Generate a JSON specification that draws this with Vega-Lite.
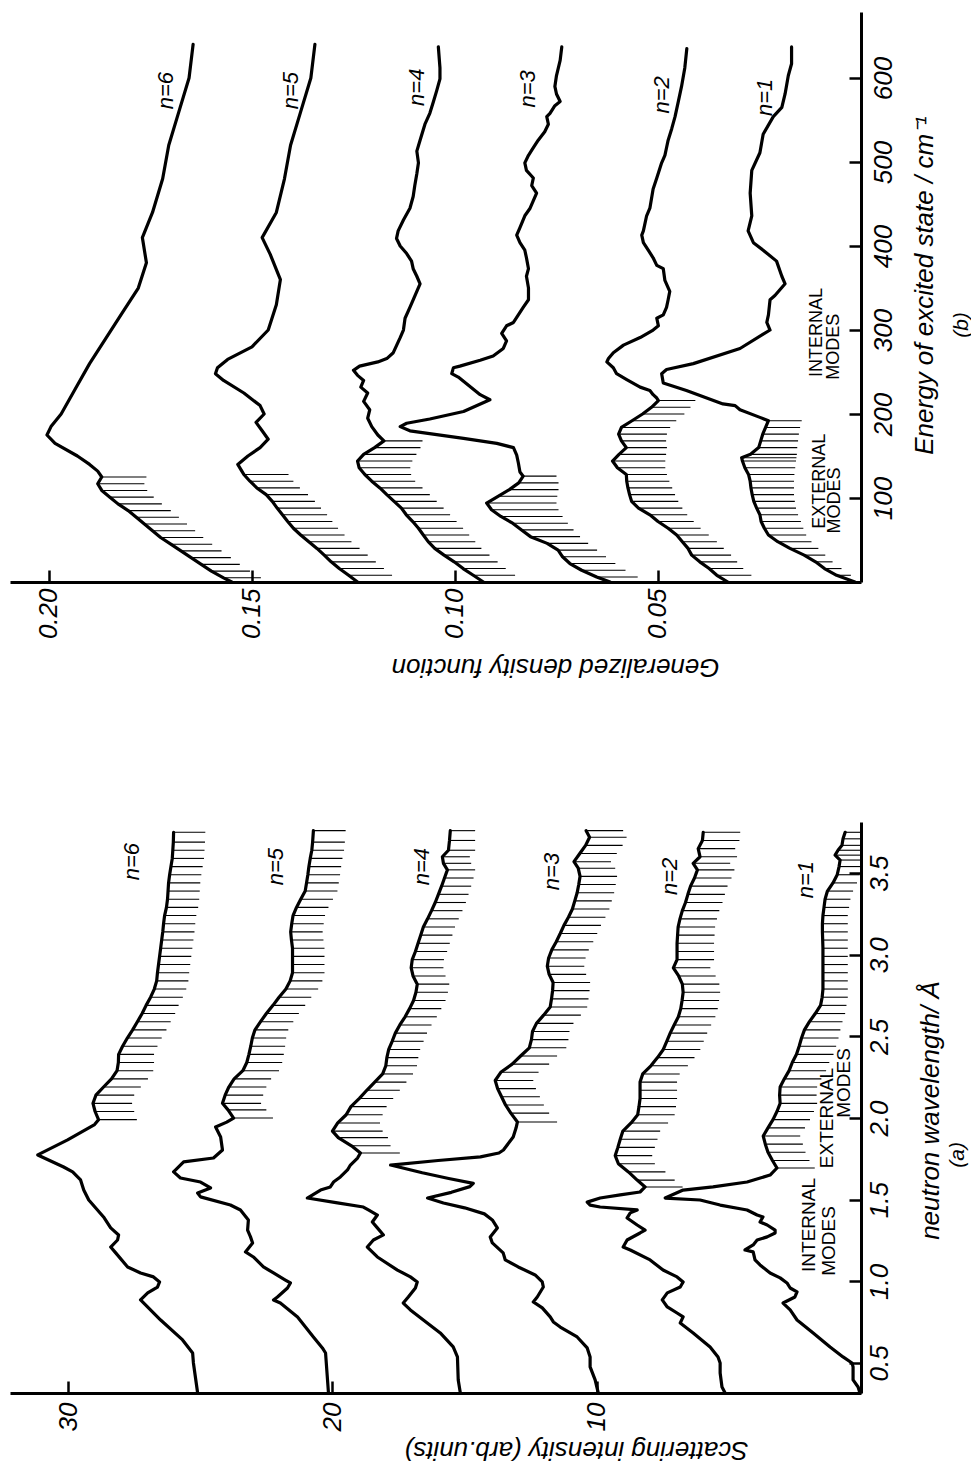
{
"$schema": "https://vega.github.io/schema/vega-lite/v6.json",
"padding": {"left": 10, "top": 12, "right": 0, "bottom": 30},
"autosize": {"type": "pad"},
"background": "white",
"bounds": "flush",
"spacing": 240,
"config": {
  "view": {"stroke": null},
  "font": "Liberation Sans",
  "axis": {"domainColor": "black", "domainWidth": 3, "tickColor": "black", "tickWidth": 2.5, "tickSize": -12, "labelColor": "black", "labelFont": "Liberation Sans", "labelFontStyle": "italic", "labelFontSize": 26, "titleFont": "Liberation Sans", "titleFontStyle": "italic", "titleFontWeight": "normal", "titleFontSize": 26, "titleColor": "black", "grid": false, "labelFlush": false, "labelOverlap": false}
},
"datasets": {
"b": [
{"n":1,"e":637,"d":0.0171},{"n":1,"e":617,"d":0.0171},{"n":1,"e":603,"d":0.0179},{"n":1,"e":581,"d":0.0187},{"n":1,"e":565,"d":0.0195},{"n":1,"e":554,"d":0.0216},{"n":1,"e":533,"d":0.0241},{"n":1,"e":511,"d":0.0249},{"n":1,"e":490,"d":0.0269},{"n":1,"e":463,"d":0.0273},{"n":1,"e":436,"d":0.0269},{"n":1,"e":418,"d":0.0278},{"n":1,"e":404,"d":0.0265},{"n":1,"e":395,"d":0.0241},{"n":1,"e":382,"d":0.0208},{"n":1,"e":364,"d":0.0195},{"n":1,"e":355,"d":0.0187},{"n":1,"e":341,"d":0.0212},{"n":1,"e":336,"d":0.0224},{"n":1,"e":318,"d":0.0228},{"n":1,"e":309,"d":0.0232},{"n":1,"e":300,"d":0.0224},{"n":1,"e":278,"d":0.0298},{"n":1,"e":260,"d":0.0413},{"n":1,"e":253,"d":0.0479},{"n":1,"e":248,"d":0.0491},{"n":1,"e":237,"d":0.0487},{"n":1,"e":228,"d":0.0430},{"n":1,"e":212,"d":0.0340},{"n":1,"e":210,"d":0.0310},{"n":1,"e":205,"d":0.0298},{"n":1,"e":196,"d":0.0249},
{"n":1,"e":192,"d":0.0228,"lo":0.0146},{"n":1,"e":184,"d":0.0235,"lo":0.0150},{"n":1,"e":176,"d":0.0242,"lo":0.0153},{"n":1,"e":168,"d":0.0247,"lo":0.0155},{"n":1,"e":160,"d":0.0252,"lo":0.0157},{"n":1,"e":152,"d":0.0272,"lo":0.0158},{"n":1,"e":148,"d":0.0294,"lo":0.0159},{"n":1,"e":144,"d":0.0292,"lo":0.0160},{"n":1,"e":136,"d":0.0286,"lo":0.0162},{"n":1,"e":128,"d":0.0277,"lo":0.0164},{"n":1,"e":120,"d":0.0273,"lo":0.0165},{"n":1,"e":112,"d":0.0271,"lo":0.0165},{"n":1,"e":104,"d":0.0268,"lo":0.0165},{"n":1,"e":96,"d":0.0264,"lo":0.0163},{"n":1,"e":88,"d":0.0257,"lo":0.0160},{"n":1,"e":80,"d":0.0249,"lo":0.0155},{"n":1,"e":72,"d":0.0246,"lo":0.0148},{"n":1,"e":64,"d":0.0238,"lo":0.0142},{"n":1,"e":56,"d":0.0228,"lo":0.0135},{"n":1,"e":48,"d":0.0205,"lo":0.0122},{"n":1,"e":40,"d":0.0175,"lo":0.0105},{"n":1,"e":32,"d":0.0140,"lo":0.0088},{"n":1,"e":24,"d":0.0112,"lo":0.0070},{"n":1,"e":16,"d":0.0090,"lo":0.0048},{"n":1,"e":8,"d":0.0060,"lo":0.0025},{"n":1,"e":0,"d":0.0015,"lo":0.0},
{"n":2,"e":635,"d":0.0429},{"n":2,"e":612,"d":0.0434},{"n":2,"e":590,"d":0.0442},{"n":2,"e":572,"d":0.0450},{"n":2,"e":554,"d":0.0458},{"n":2,"e":540,"d":0.0466},{"n":2,"e":526,"d":0.0475},{"n":2,"e":517,"d":0.0479},{"n":2,"e":508,"d":0.0483},{"n":2,"e":499,"d":0.0491},{"n":2,"e":481,"d":0.0503},{"n":2,"e":468,"d":0.0512},{"n":2,"e":445,"d":0.0520},{"n":2,"e":436,"d":0.0528},{"n":2,"e":418,"d":0.0536},{"n":2,"e":413,"d":0.0540},{"n":2,"e":404,"d":0.0536},{"n":2,"e":395,"d":0.0524},{"n":2,"e":386,"d":0.0512},{"n":2,"e":377,"d":0.0503},{"n":2,"e":373,"d":0.0487},{"n":2,"e":359,"d":0.0483},{"n":2,"e":346,"d":0.0471},{"n":2,"e":336,"d":0.0475},{"n":2,"e":327,"d":0.0479},{"n":2,"e":318,"d":0.0487},{"n":2,"e":314,"d":0.0503},{"n":2,"e":305,"d":0.0499},{"n":2,"e":300,"d":0.0512},{"n":2,"e":291,"d":0.0544},{"n":2,"e":282,"d":0.0585},{"n":2,"e":273,"d":0.0610},{"n":2,"e":266,"d":0.0622},{"n":2,"e":262,"d":0.0626},{"n":2,"e":255,"d":0.0610},{"n":2,"e":248,"d":0.0602},{"n":2,"e":241,"d":0.0577},{"n":2,"e":232,"d":0.0544},{"n":2,"e":228,"d":0.0520},{"n":2,"e":223,"d":0.0512},{"n":2,"e":219,"d":0.0503},
{"n":2,"e":216,"d":0.0499,"lo":0.0408},{"n":2,"e":208,"d":0.0516,"lo":0.0420},{"n":2,"e":200,"d":0.0538,"lo":0.0435},{"n":2,"e":192,"d":0.0564,"lo":0.0455},{"n":2,"e":184,"d":0.0590,"lo":0.0470},{"n":2,"e":176,"d":0.0597,"lo":0.0478},{"n":2,"e":168,"d":0.0590,"lo":0.0480},{"n":2,"e":160,"d":0.0578,"lo":0.0478},{"n":2,"e":152,"d":0.0596,"lo":0.0480},{"n":2,"e":144,"d":0.0612,"lo":0.0482},{"n":2,"e":136,"d":0.0600,"lo":0.0482},{"n":2,"e":128,"d":0.0578,"lo":0.0478},{"n":2,"e":120,"d":0.0577,"lo":0.0472},{"n":2,"e":112,"d":0.0574,"lo":0.0465},{"n":2,"e":104,"d":0.0570,"lo":0.0458},{"n":2,"e":96,"d":0.0565,"lo":0.0450},{"n":2,"e":88,"d":0.0548,"lo":0.0440},{"n":2,"e":80,"d":0.0520,"lo":0.0428},{"n":2,"e":72,"d":0.0500,"lo":0.0412},{"n":2,"e":64,"d":0.0475,"lo":0.0395},{"n":2,"e":56,"d":0.0454,"lo":0.0375},{"n":2,"e":48,"d":0.0440,"lo":0.0355},{"n":2,"e":40,"d":0.0426,"lo":0.0338},{"n":2,"e":32,"d":0.0417,"lo":0.0320},{"n":2,"e":24,"d":0.0397,"lo":0.0305},{"n":2,"e":16,"d":0.0374,"lo":0.0290},{"n":2,"e":8,"d":0.0355,"lo":0.0270},{"n":2,"e":0,"d":0.0328,"lo":0.0250},
{"n":3,"e":637,"d":0.0737},{"n":3,"e":621,"d":0.0741},{"n":3,"e":603,"d":0.0750},{"n":3,"e":590,"d":0.0754},{"n":3,"e":581,"d":0.0750},{"n":3,"e":572,"d":0.0741},{"n":3,"e":567,"d":0.0754},{"n":3,"e":558,"d":0.0766},{"n":3,"e":554,"d":0.0774},{"n":3,"e":545,"d":0.0770},{"n":3,"e":536,"d":0.0779},{"n":3,"e":526,"d":0.0795},{"n":3,"e":517,"d":0.0807},{"n":3,"e":508,"d":0.0819},{"n":3,"e":499,"d":0.0828},{"n":3,"e":490,"d":0.0824},{"n":3,"e":481,"d":0.0807},{"n":3,"e":472,"d":0.0811},{"n":3,"e":463,"d":0.0799},{"n":3,"e":454,"d":0.0807},{"n":3,"e":445,"d":0.0815},{"n":3,"e":436,"d":0.0828},{"n":3,"e":422,"d":0.0840},{"n":3,"e":413,"d":0.0848},{"n":3,"e":404,"d":0.0840},{"n":3,"e":395,"d":0.0828},{"n":3,"e":386,"d":0.0824},{"n":3,"e":373,"d":0.0819},{"n":3,"e":364,"d":0.0824},{"n":3,"e":350,"d":0.0819},{"n":3,"e":336,"d":0.0819},{"n":3,"e":327,"d":0.0832},{"n":3,"e":318,"d":0.0844},{"n":3,"e":309,"d":0.0856},{"n":3,"e":305,"d":0.0873},{"n":3,"e":296,"d":0.0885},{"n":3,"e":287,"d":0.0873},{"n":3,"e":278,"d":0.0881},{"n":3,"e":269,"d":0.0906},{"n":3,"e":264,"d":0.0938},{"n":3,"e":257,"d":0.0988},{"n":3,"e":255,"d":0.1004},{"n":3,"e":248,"d":0.1008},{"n":3,"e":244,"d":0.0992},{"n":3,"e":223,"d":0.0938},{"n":3,"e":217,"d":0.0914},{"n":3,"e":203,"d":0.0979},{"n":3,"e":194,"d":0.1062},{"n":3,"e":189,"d":0.1119},{"n":3,"e":185,"d":0.1135},{"n":3,"e":180,"d":0.1111},{"n":3,"e":171,"d":0.0979},{"n":3,"e":165,"d":0.0897},{"n":3,"e":160,"d":0.0856},{"n":3,"e":151,"d":0.0848},{"n":3,"e":142,"d":0.0844},{"n":3,"e":131,"d":0.0840},
{"n":3,"e":126,"d":0.0832,"lo":0.0750},{"n":3,"e":118,"d":0.0843,"lo":0.0745},{"n":3,"e":110,"d":0.0866,"lo":0.0745},{"n":3,"e":102,"d":0.0894,"lo":0.0748},{"n":3,"e":94,"d":0.0922,"lo":0.0750},{"n":3,"e":86,"d":0.0910,"lo":0.0745},{"n":3,"e":78,"d":0.0887,"lo":0.0735},{"n":3,"e":70,"d":0.0858,"lo":0.0722},{"n":3,"e":62,"d":0.0836,"lo":0.0708},{"n":3,"e":54,"d":0.0814,"lo":0.0692},{"n":3,"e":46,"d":0.0773,"lo":0.0672},{"n":3,"e":38,"d":0.0746,"lo":0.0650},{"n":3,"e":30,"d":0.0735,"lo":0.0628},{"n":3,"e":22,"d":0.0717,"lo":0.0605},{"n":3,"e":14,"d":0.0688,"lo":0.0580},{"n":3,"e":6,"d":0.0651,"lo":0.0550},{"n":3,"e":0,"d":0.0618,"lo":0.0525},
{"n":4,"e":637,"d":0.1041},{"n":4,"e":612,"d":0.1037},{"n":4,"e":599,"d":0.1037},{"n":4,"e":585,"d":0.1045},{"n":4,"e":572,"d":0.1053},{"n":4,"e":558,"d":0.1062},{"n":4,"e":545,"d":0.1074},{"n":4,"e":526,"d":0.1086},{"n":4,"e":513,"d":0.1094},{"n":4,"e":499,"d":0.1090},{"n":4,"e":486,"d":0.1094},{"n":4,"e":472,"d":0.1099},{"n":4,"e":459,"d":0.1103},{"n":4,"e":445,"d":0.1111},{"n":4,"e":431,"d":0.1127},{"n":4,"e":418,"d":0.1140},{"n":4,"e":409,"d":0.1144},{"n":4,"e":400,"d":0.1135},{"n":4,"e":391,"d":0.1119},{"n":4,"e":382,"d":0.1107},{"n":4,"e":373,"d":0.1103},{"n":4,"e":364,"d":0.1094},{"n":4,"e":355,"d":0.1086},{"n":4,"e":346,"d":0.1094},{"n":4,"e":336,"d":0.1103},{"n":4,"e":327,"d":0.1111},{"n":4,"e":314,"d":0.1123},{"n":4,"e":300,"d":0.1127},{"n":4,"e":291,"d":0.1135},{"n":4,"e":273,"d":0.1152},{"n":4,"e":266,"d":0.1168},{"n":4,"e":262,"d":0.1190},{"n":4,"e":257,"d":0.1235},{"n":4,"e":252,"d":0.1250},{"n":4,"e":246,"d":0.1240},{"n":4,"e":240,"d":0.1225},{"n":4,"e":232,"d":0.1232},{"n":4,"e":225,"d":0.1215},{"n":4,"e":215,"d":0.1225},{"n":4,"e":205,"d":0.1210},{"n":4,"e":195,"d":0.1215},{"n":4,"e":185,"d":0.1205},{"n":4,"e":175,"d":0.1190},
{"n":4,"e":168,"d":0.1175,"lo":0.1080},{"n":4,"e":160,"d":0.1198,"lo":0.1085},{"n":4,"e":152,"d":0.1225,"lo":0.1095},{"n":4,"e":144,"d":0.1240,"lo":0.1105},{"n":4,"e":136,"d":0.1236,"lo":0.1110},{"n":4,"e":128,"d":0.1222,"lo":0.1108},{"n":4,"e":120,"d":0.1205,"lo":0.1098},{"n":4,"e":112,"d":0.1185,"lo":0.1080},{"n":4,"e":104,"d":0.1168,"lo":0.1062},{"n":4,"e":96,"d":0.1150,"lo":0.1045},{"n":4,"e":88,"d":0.1132,"lo":0.1028},{"n":4,"e":80,"d":0.1120,"lo":0.1012},{"n":4,"e":72,"d":0.1104,"lo":0.0996},{"n":4,"e":64,"d":0.1090,"lo":0.0980},{"n":4,"e":56,"d":0.1078,"lo":0.0965},{"n":4,"e":48,"d":0.1066,"lo":0.0950},{"n":4,"e":40,"d":0.1050,"lo":0.0935},{"n":4,"e":32,"d":0.1027,"lo":0.0915},{"n":4,"e":24,"d":0.1002,"lo":0.0895},{"n":4,"e":16,"d":0.0980,"lo":0.0875},{"n":4,"e":8,"d":0.0955,"lo":0.0852},{"n":4,"e":0,"d":0.0930,"lo":0.0830},
{"n":5,"e":640,"d":0.1345},{"n":5,"e":600,"d":0.1355},{"n":5,"e":560,"d":0.1380},{"n":5,"e":520,"d":0.1405},{"n":5,"e":480,"d":0.1420},{"n":5,"e":440,"d":0.1440},{"n":5,"e":410,"d":0.1475},{"n":5,"e":390,"d":0.1455},{"n":5,"e":360,"d":0.1430},{"n":5,"e":330,"d":0.1440},{"n":5,"e":300,"d":0.1460},{"n":5,"e":280,"d":0.1500},{"n":5,"e":265,"d":0.1560},{"n":5,"e":255,"d":0.1585},{"n":5,"e":248,"d":0.1590},{"n":5,"e":240,"d":0.1570},{"n":5,"e":225,"d":0.1520},{"n":5,"e":210,"d":0.1480},{"n":5,"e":200,"d":0.1470},{"n":5,"e":190,"d":0.1490},{"n":5,"e":180,"d":0.1475},{"n":5,"e":170,"d":0.1460},{"n":5,"e":160,"d":0.1480},{"n":5,"e":150,"d":0.1510},{"n":5,"e":140,"d":0.1535},{"n":5,"e":132,"d":0.1525},
{"n":5,"e":128,"d":0.1520,"lo":0.1410},{"n":5,"e":120,"d":0.1505,"lo":0.1398},{"n":5,"e":112,"d":0.1488,"lo":0.1382},{"n":5,"e":104,"d":0.1465,"lo":0.1362},{"n":5,"e":96,"d":0.1450,"lo":0.1345},{"n":5,"e":88,"d":0.1438,"lo":0.1330},{"n":5,"e":80,"d":0.1425,"lo":0.1315},{"n":5,"e":72,"d":0.1412,"lo":0.1302},{"n":5,"e":64,"d":0.1398,"lo":0.1288},{"n":5,"e":56,"d":0.1380,"lo":0.1272},{"n":5,"e":48,"d":0.1360,"lo":0.1255},{"n":5,"e":40,"d":0.1340,"lo":0.1235},{"n":5,"e":32,"d":0.1322,"lo":0.1215},{"n":5,"e":24,"d":0.1305,"lo":0.1195},{"n":5,"e":16,"d":0.1285,"lo":0.1175},{"n":5,"e":8,"d":0.1262,"lo":0.1155},{"n":5,"e":0,"d":0.1240,"lo":0.1135},
{"n":6,"e":640,"d":0.1645},{"n":6,"e":600,"d":0.1655},{"n":6,"e":560,"d":0.1680},{"n":6,"e":520,"d":0.1705},{"n":6,"e":480,"d":0.1720},{"n":6,"e":440,"d":0.1745},{"n":6,"e":410,"d":0.1770},{"n":6,"e":380,"d":0.1760},{"n":6,"e":350,"d":0.1780},{"n":6,"e":320,"d":0.1820},{"n":6,"e":290,"d":0.1860},{"n":6,"e":260,"d":0.1900},{"n":6,"e":230,"d":0.1935},{"n":6,"e":200,"d":0.1970},{"n":6,"e":185,"d":0.1995},{"n":6,"e":175,"d":0.2005},{"n":6,"e":165,"d":0.1985},{"n":6,"e":150,"d":0.1930},{"n":6,"e":140,"d":0.1900},{"n":6,"e":132,"d":0.1880},
{"n":6,"e":125,"d":0.1870,"lo":0.1760},{"n":6,"e":117,"d":0.1880,"lo":0.1765},{"n":6,"e":109,"d":0.1870,"lo":0.1758},{"n":6,"e":101,"d":0.1850,"lo":0.1742},{"n":6,"e":93,"d":0.1830,"lo":0.1722},{"n":6,"e":85,"d":0.1805,"lo":0.1700},{"n":6,"e":77,"d":0.1785,"lo":0.1680},{"n":6,"e":69,"d":0.1765,"lo":0.1660},{"n":6,"e":61,"d":0.1745,"lo":0.1640},{"n":6,"e":53,"d":0.1725,"lo":0.1620},{"n":6,"e":45,"d":0.1700,"lo":0.1598},{"n":6,"e":37,"d":0.1675,"lo":0.1575},{"n":6,"e":29,"d":0.1650,"lo":0.1552},{"n":6,"e":21,"d":0.1625,"lo":0.1530},{"n":6,"e":13,"d":0.1600,"lo":0.1505},{"n":6,"e":5,"d":0.1570,"lo":0.1478},{"n":6,"e":0,"d":0.1550,"lo":0.1460}
],
"bl": [
{"t":"n=6","k":"n","d":0.1712,"e":585},{"t":"n=5","k":"n","d":0.1403,"e":585},{"t":"n=4","k":"n","d":0.1094,"e":589},{"t":"n=3","k":"n","d":0.0820,"e":587},{"t":"n=2","k":"n","d":0.0490,"e":580},{"t":"n=1","k":"n","d":0.0236,"e":577},
{"t":"INTERNAL","k":"m","d":0.0108,"e":297},{"t":"MODES","k":"m","d":0.0066,"e":280},{"t":"EXTERNAL","k":"m","d":0.0101,"e":120},{"t":"MODES","k":"m","d":0.0064,"e":97},
{"t":"(b)","k":"p","d":-0.0249,"e":306}
],
"a": [
{"n":6,"w":0.316,"v":25.10},{"n":6,"w":0.50,"v":25.26},{"n":6,"w":0.561,"v":25.29},{"n":6,"w":0.641,"v":25.67},{"n":6,"w":0.763,"v":26.50},{"n":6,"w":0.886,"v":27.26},{"n":6,"w":0.929,"v":26.99},{"n":6,"w":0.965,"v":26.62},{"n":6,"w":0.996,"v":26.54},{"n":6,"w":1.027,"v":26.77},{"n":6,"w":1.051,"v":27.26},{"n":6,"w":1.088,"v":27.75},{"n":6,"w":1.174,"v":28.20},{"n":6,"w":1.210,"v":28.39},{"n":6,"w":1.253,"v":28.13},{"n":6,"w":1.284,"v":28.09},{"n":6,"w":1.327,"v":28.39},{"n":6,"w":1.394,"v":28.66},{"n":6,"w":1.498,"v":29.22},{"n":6,"w":1.559,"v":29.41},{"n":6,"w":1.621,"v":29.53},{"n":6,"w":1.670,"v":29.83},{"n":6,"w":1.700,"v":30.17},{"n":6,"w":1.774,"v":31.15},{"n":6,"w":1.866,"v":30.02},{"n":6,"w":1.96,"v":29.0},
{"n":6,"w":1.99,"v":28.85,"lo":27.40},{"n":6,"w":2.04,"v":28.98,"lo":27.50},{"n":6,"w":2.09,"v":29.06,"lo":27.58},{"n":6,"w":2.14,"v":28.95,"lo":27.50},{"n":6,"w":2.19,"v":28.66,"lo":27.25},{"n":6,"w":2.24,"v":28.36,"lo":26.98},{"n":6,"w":2.29,"v":28.15,"lo":26.78},{"n":6,"w":2.34,"v":28.10,"lo":26.75},{"n":6,"w":2.39,"v":28.09,"lo":26.75},{"n":6,"w":2.44,"v":27.94,"lo":26.62},{"n":6,"w":2.49,"v":27.76,"lo":26.46},{"n":6,"w":2.54,"v":27.56,"lo":26.28},{"n":6,"w":2.59,"v":27.38,"lo":26.12},{"n":6,"w":2.64,"v":27.20,"lo":25.95},{"n":6,"w":2.69,"v":27.05,"lo":25.82},{"n":6,"w":2.74,"v":26.88,"lo":25.66},{"n":6,"w":2.79,"v":26.74,"lo":25.53},{"n":6,"w":2.84,"v":26.65,"lo":25.45},{"n":6,"w":2.89,"v":26.62,"lo":25.42},{"n":6,"w":2.94,"v":26.58,"lo":25.38},{"n":6,"w":2.99,"v":26.54,"lo":25.34},{"n":6,"w":3.04,"v":26.50,"lo":25.30},{"n":6,"w":3.09,"v":26.46,"lo":25.26},{"n":6,"w":3.14,"v":26.42,"lo":25.22},{"n":6,"w":3.19,"v":26.39,"lo":25.19},{"n":6,"w":3.24,"v":26.35,"lo":25.15},{"n":6,"w":3.29,"v":26.28,"lo":25.08},{"n":6,"w":3.34,"v":26.24,"lo":25.04},{"n":6,"w":3.39,"v":26.22,"lo":25.02},{"n":6,"w":3.44,"v":26.20,"lo":25.00},{"n":6,"w":3.49,"v":26.16,"lo":24.96},{"n":6,"w":3.54,"v":26.11,"lo":24.91},{"n":6,"w":3.59,"v":26.06,"lo":24.86},{"n":6,"w":3.64,"v":26.04,"lo":24.84},{"n":6,"w":3.69,"v":26.02,"lo":24.82},{"n":6,"w":3.75,"v":26.01,"lo":24.81},
{"n":5,"w":0.316,"v":20.15},{"n":5,"w":0.561,"v":20.26},{"n":5,"w":0.592,"v":20.38},{"n":5,"w":0.659,"v":20.72},{"n":5,"w":0.782,"v":21.32},{"n":5,"w":0.867,"v":21.97},{"n":5,"w":0.886,"v":22.23},{"n":5,"w":0.904,"v":22.08},{"n":5,"w":0.959,"v":21.70},{"n":5,"w":0.990,"v":21.59},{"n":5,"w":1.008,"v":21.78},{"n":5,"w":1.051,"v":22.23},{"n":5,"w":1.088,"v":22.61},{"n":5,"w":1.149,"v":22.99},{"n":5,"w":1.180,"v":23.29},{"n":5,"w":1.235,"v":23.02},{"n":5,"w":1.272,"v":23.10},{"n":5,"w":1.314,"v":23.21},{"n":5,"w":1.376,"v":23.18},{"n":5,"w":1.437,"v":23.48},{"n":5,"w":1.467,"v":23.86},{"n":5,"w":1.517,"v":24.99},{"n":5,"w":1.541,"v":25.10},{"n":5,"w":1.572,"v":24.61},{"n":5,"w":1.608,"v":24.99},{"n":5,"w":1.633,"v":25.75},{"n":5,"w":1.670,"v":26.01},{"n":5,"w":1.731,"v":25.63},{"n":5,"w":1.755,"v":24.50},{"n":5,"w":1.804,"v":24.16},{"n":5,"w":1.884,"v":24.23},{"n":5,"w":1.945,"v":24.42},{"n":5,"w":1.975,"v":24.0},
{"n":5,"w":2.00,"v":23.74,"lo":22.25},{"n":5,"w":2.05,"v":23.95,"lo":22.50},{"n":5,"w":2.09,"v":24.16,"lo":22.70},{"n":5,"w":2.14,"v":24.06,"lo":22.62},{"n":5,"w":2.19,"v":23.92,"lo":22.50},{"n":5,"w":2.24,"v":23.72,"lo":22.32},{"n":5,"w":2.29,"v":23.39,"lo":22.02},{"n":5,"w":2.34,"v":23.24,"lo":21.90},{"n":5,"w":2.39,"v":23.16,"lo":21.84},{"n":5,"w":2.44,"v":23.09,"lo":21.79},{"n":5,"w":2.49,"v":23.03,"lo":21.75},{"n":5,"w":2.54,"v":22.93,"lo":21.67},{"n":5,"w":2.59,"v":22.72,"lo":21.48},{"n":5,"w":2.64,"v":22.50,"lo":21.27},{"n":5,"w":2.69,"v":22.25,"lo":21.03},{"n":5,"w":2.74,"v":22.02,"lo":20.80},{"n":5,"w":2.79,"v":21.76,"lo":20.54},{"n":5,"w":2.84,"v":21.60,"lo":20.38},{"n":5,"w":2.89,"v":21.51,"lo":20.30},{"n":5,"w":2.94,"v":21.51,"lo":20.30},{"n":5,"w":2.99,"v":21.51,"lo":20.30},{"n":5,"w":3.04,"v":21.51,"lo":20.30},{"n":5,"w":3.09,"v":21.55,"lo":20.34},{"n":5,"w":3.14,"v":21.58,"lo":20.37},{"n":5,"w":3.19,"v":21.54,"lo":20.33},{"n":5,"w":3.24,"v":21.49,"lo":20.28},{"n":5,"w":3.29,"v":21.36,"lo":20.15},{"n":5,"w":3.34,"v":21.20,"lo":19.98},{"n":5,"w":3.39,"v":21.03,"lo":19.81},{"n":5,"w":3.44,"v":20.98,"lo":19.76},{"n":5,"w":3.49,"v":20.93,"lo":19.71},{"n":5,"w":3.54,"v":20.89,"lo":19.67},{"n":5,"w":3.59,"v":20.84,"lo":19.62},{"n":5,"w":3.64,"v":20.78,"lo":19.56},{"n":5,"w":3.69,"v":20.75,"lo":19.53},{"n":5,"w":3.76,"v":20.72,"lo":19.50},
{"n":4,"w":0.316,"v":15.16},{"n":4,"w":0.396,"v":15.24},{"n":4,"w":0.537,"v":15.27},{"n":4,"w":0.598,"v":15.43},{"n":4,"w":0.684,"v":15.92},{"n":4,"w":0.763,"v":16.56},{"n":4,"w":0.825,"v":17.05},{"n":4,"w":0.867,"v":17.32},{"n":4,"w":0.904,"v":17.13},{"n":4,"w":0.959,"v":16.86},{"n":4,"w":0.996,"v":16.79},{"n":4,"w":1.027,"v":17.05},{"n":4,"w":1.069,"v":17.54},{"n":4,"w":1.149,"v":18.30},{"n":4,"w":1.210,"v":18.68},{"n":4,"w":1.253,"v":18.45},{"n":4,"w":1.284,"v":18.07},{"n":4,"w":1.327,"v":18.30},{"n":4,"w":1.363,"v":18.49},{"n":4,"w":1.406,"v":18.30},{"n":4,"w":1.437,"v":18.64},{"n":4,"w":1.455,"v":18.83},{"n":4,"w":1.480,"v":19.81},{"n":4,"w":1.510,"v":20.95},{"n":4,"w":1.559,"v":20.45},{"n":4,"w":1.578,"v":20.08},{"n":4,"w":1.608,"v":19.96},{"n":4,"w":1.639,"v":19.70},{"n":4,"w":1.682,"v":19.43},{"n":4,"w":1.712,"v":19.32},{"n":4,"w":1.755,"v":19.05},
{"n":4,"w":1.786,"v":18.94,"lo":17.45},{"n":4,"w":1.83,"v":19.28,"lo":17.80},{"n":4,"w":1.88,"v":19.78,"lo":17.90},{"n":4,"w":1.92,"v":20.00,"lo":18.10},{"n":4,"w":1.97,"v":19.80,"lo":18.20},{"n":4,"w":2.02,"v":19.48,"lo":18.10},{"n":4,"w":2.07,"v":19.30,"lo":17.95},{"n":4,"w":2.12,"v":18.98,"lo":17.70},{"n":4,"w":2.17,"v":18.70,"lo":17.45},{"n":4,"w":2.22,"v":18.40,"lo":17.20},{"n":4,"w":2.27,"v":18.10,"lo":16.95},{"n":4,"w":2.32,"v":17.98,"lo":16.80},{"n":4,"w":2.37,"v":17.94,"lo":16.75},{"n":4,"w":2.42,"v":17.87,"lo":16.68},{"n":4,"w":2.47,"v":17.74,"lo":16.55},{"n":4,"w":2.52,"v":17.62,"lo":16.42},{"n":4,"w":2.57,"v":17.45,"lo":16.25},{"n":4,"w":2.62,"v":17.25,"lo":16.05},{"n":4,"w":2.67,"v":17.08,"lo":15.88},{"n":4,"w":2.72,"v":16.93,"lo":15.72},{"n":4,"w":2.77,"v":16.84,"lo":15.63},{"n":4,"w":2.82,"v":16.79,"lo":15.58},{"n":4,"w":2.87,"v":16.95,"lo":15.72},{"n":4,"w":2.92,"v":17.02,"lo":15.80},{"n":4,"w":2.97,"v":16.98,"lo":15.78},{"n":4,"w":3.02,"v":16.86,"lo":15.66},{"n":4,"w":3.07,"v":16.76,"lo":15.56},{"n":4,"w":3.12,"v":16.66,"lo":15.46},{"n":4,"w":3.17,"v":16.56,"lo":15.36},{"n":4,"w":3.22,"v":16.40,"lo":15.22},{"n":4,"w":3.27,"v":16.25,"lo":15.08},{"n":4,"w":3.32,"v":16.11,"lo":14.95},{"n":4,"w":3.37,"v":15.99,"lo":14.85},{"n":4,"w":3.42,"v":15.87,"lo":14.75},{"n":4,"w":3.47,"v":15.76,"lo":14.66},{"n":4,"w":3.52,"v":15.65,"lo":14.60},{"n":4,"w":3.56,"v":15.80,"lo":14.75},{"n":4,"w":3.60,"v":15.84,"lo":14.80},{"n":4,"w":3.64,"v":15.61,"lo":14.60},{"n":4,"w":3.70,"v":15.57,"lo":14.60},{"n":4,"w":3.76,"v":15.54,"lo":14.60},
{"n":3,"w":0.316,"v":9.94},{"n":3,"w":0.396,"v":10.06},{"n":3,"w":0.476,"v":10.25},{"n":3,"w":0.537,"v":10.25},{"n":3,"w":0.592,"v":10.36},{"n":3,"w":0.659,"v":10.74},{"n":3,"w":0.720,"v":11.38},{"n":3,"w":0.751,"v":11.64},{"n":3,"w":0.782,"v":11.76},{"n":3,"w":0.837,"v":12.06},{"n":3,"w":0.874,"v":12.40},{"n":3,"w":0.904,"v":12.25},{"n":3,"w":0.965,"v":12.02},{"n":3,"w":0.996,"v":12.06},{"n":3,"w":1.039,"v":12.33},{"n":3,"w":1.088,"v":12.97},{"n":3,"w":1.131,"v":13.46},{"n":3,"w":1.174,"v":13.54},{"n":3,"w":1.235,"v":13.95},{"n":3,"w":1.272,"v":14.03},{"n":3,"w":1.327,"v":13.76},{"n":3,"w":1.376,"v":13.95},{"n":3,"w":1.413,"v":14.25},{"n":3,"w":1.450,"v":15.0},{"n":3,"w":1.480,"v":15.8},{"n":3,"w":1.510,"v":16.4},{"n":3,"w":1.545,"v":15.5},{"n":3,"w":1.580,"v":14.8},{"n":3,"w":1.600,"v":14.67},{"n":3,"w":1.630,"v":15.6},{"n":3,"w":1.665,"v":16.6},{"n":3,"w":1.712,"v":17.8},{"n":3,"w":1.740,"v":16.0},{"n":3,"w":1.762,"v":14.40},{"n":3,"w":1.786,"v":13.70},{"n":3,"w":1.804,"v":13.53},{"n":3,"w":1.884,"v":13.16},{"n":3,"w":1.940,"v":13.05},
{"n":3,"w":1.976,"v":13.00,"lo":11.50},{"n":3,"w":2.03,"v":13.25,"lo":11.80},{"n":3,"w":2.08,"v":13.45,"lo":12.00},{"n":3,"w":2.13,"v":13.60,"lo":12.15},{"n":3,"w":2.18,"v":13.75,"lo":12.30},{"n":3,"w":2.23,"v":13.84,"lo":12.40},{"n":3,"w":2.28,"v":13.63,"lo":12.20},{"n":3,"w":2.33,"v":13.20,"lo":11.80},{"n":3,"w":2.38,"v":12.88,"lo":11.50},{"n":3,"w":2.43,"v":12.55,"lo":11.15},{"n":3,"w":2.48,"v":12.47,"lo":11.07},{"n":3,"w":2.53,"v":12.43,"lo":11.03},{"n":3,"w":2.58,"v":12.28,"lo":10.88},{"n":3,"w":2.63,"v":12.01,"lo":10.60},{"n":3,"w":2.68,"v":11.76,"lo":10.36},{"n":3,"w":2.73,"v":11.71,"lo":10.31},{"n":3,"w":2.78,"v":11.67,"lo":10.27},{"n":3,"w":2.83,"v":11.65,"lo":10.25},{"n":3,"w":2.88,"v":11.80,"lo":10.40},{"n":3,"w":2.93,"v":11.87,"lo":10.47},{"n":3,"w":2.98,"v":11.82,"lo":10.42},{"n":3,"w":3.03,"v":11.70,"lo":10.30},{"n":3,"w":3.08,"v":11.53,"lo":10.13},{"n":3,"w":3.13,"v":11.38,"lo":9.98},{"n":3,"w":3.18,"v":11.24,"lo":9.84},{"n":3,"w":3.23,"v":11.07,"lo":9.67},{"n":3,"w":3.28,"v":10.92,"lo":9.52},{"n":3,"w":3.33,"v":10.83,"lo":9.43},{"n":3,"w":3.38,"v":10.74,"lo":9.34},{"n":3,"w":3.43,"v":10.68,"lo":9.28},{"n":3,"w":3.48,"v":10.63,"lo":9.23},{"n":3,"w":3.53,"v":10.70,"lo":9.30},{"n":3,"w":3.57,"v":10.86,"lo":9.46},{"n":3,"w":3.62,"v":10.64,"lo":9.24},{"n":3,"w":3.67,"v":10.42,"lo":9.02},{"n":3,"w":3.72,"v":10.27,"lo":8.87},{"n":3,"w":3.76,"v":10.40,"lo":9.00},
{"n":2,"w":0.316,"v":5.14},{"n":2,"w":0.353,"v":5.26},{"n":2,"w":0.439,"v":5.33},{"n":2,"w":0.500,"v":5.33},{"n":2,"w":0.537,"v":5.41},{"n":2,"w":0.598,"v":5.71},{"n":2,"w":0.684,"v":6.35},{"n":2,"w":0.745,"v":6.84},{"n":2,"w":0.782,"v":6.73},{"n":2,"w":0.806,"v":6.96},{"n":2,"w":0.843,"v":7.33},{"n":2,"w":0.886,"v":7.52},{"n":2,"w":0.929,"v":7.33},{"n":2,"w":0.965,"v":6.84},{"n":2,"w":0.996,"v":6.73},{"n":2,"w":1.027,"v":6.96},{"n":2,"w":1.069,"v":7.49},{"n":2,"w":1.131,"v":7.98},{"n":2,"w":1.192,"v":8.73},{"n":2,"w":1.210,"v":9.00},{"n":2,"w":1.253,"v":8.85},{"n":2,"w":1.296,"v":8.36},{"n":2,"w":1.314,"v":8.17},{"n":2,"w":1.345,"v":8.47},{"n":2,"w":1.388,"v":8.85},{"n":2,"w":1.419,"v":8.73},{"n":2,"w":1.437,"v":8.47},{"n":2,"w":1.455,"v":9.87},{"n":2,"w":1.467,"v":10.25},{"n":2,"w":1.485,"v":10.36},{"n":2,"w":1.510,"v":9.87},{"n":2,"w":1.529,"v":9.11},{"n":2,"w":1.547,"v":8.36},
{"n":2,"w":1.578,"v":8.17,"lo":6.75},{"n":2,"w":1.62,"v":8.47,"lo":7.05},{"n":2,"w":1.67,"v":8.80,"lo":7.40},{"n":2,"w":1.72,"v":9.18,"lo":7.80},{"n":2,"w":1.77,"v":9.30,"lo":7.90},{"n":2,"w":1.82,"v":9.20,"lo":7.80},{"n":2,"w":1.87,"v":9.11,"lo":7.70},{"n":2,"w":1.92,"v":9.01,"lo":7.60},{"n":2,"w":1.97,"v":8.70,"lo":7.30},{"n":2,"w":2.02,"v":8.45,"lo":7.05},{"n":2,"w":2.07,"v":8.40,"lo":7.00},{"n":2,"w":2.12,"v":8.36,"lo":6.96},{"n":2,"w":2.17,"v":8.36,"lo":6.96},{"n":2,"w":2.22,"v":8.36,"lo":6.96},{"n":2,"w":2.27,"v":8.26,"lo":6.86},{"n":2,"w":2.32,"v":7.95,"lo":6.55},{"n":2,"w":2.37,"v":7.70,"lo":6.30},{"n":2,"w":2.42,"v":7.48,"lo":6.08},{"n":2,"w":2.47,"v":7.35,"lo":5.95},{"n":2,"w":2.52,"v":7.22,"lo":5.82},{"n":2,"w":2.57,"v":7.07,"lo":5.67},{"n":2,"w":2.62,"v":6.91,"lo":5.51},{"n":2,"w":2.67,"v":6.82,"lo":5.42},{"n":2,"w":2.72,"v":6.77,"lo":5.37},{"n":2,"w":2.77,"v":6.73,"lo":5.33},{"n":2,"w":2.82,"v":6.76,"lo":5.36},{"n":2,"w":2.87,"v":6.90,"lo":5.50},{"n":2,"w":2.92,"v":7.10,"lo":5.70},{"n":2,"w":2.97,"v":6.96,"lo":5.56},{"n":2,"w":3.02,"v":6.96,"lo":5.56},{"n":2,"w":3.07,"v":6.96,"lo":5.56},{"n":2,"w":3.12,"v":6.94,"lo":5.54},{"n":2,"w":3.17,"v":6.92,"lo":5.52},{"n":2,"w":3.22,"v":6.85,"lo":5.45},{"n":2,"w":3.27,"v":6.76,"lo":5.36},{"n":2,"w":3.32,"v":6.64,"lo":5.24},{"n":2,"w":3.37,"v":6.55,"lo":5.15},{"n":2,"w":3.42,"v":6.45,"lo":5.05},{"n":2,"w":3.47,"v":6.30,"lo":4.90},{"n":2,"w":3.52,"v":6.19,"lo":4.79},{"n":2,"w":3.56,"v":6.35,"lo":4.95},{"n":2,"w":3.60,"v":6.09,"lo":4.69},{"n":2,"w":3.65,"v":6.16,"lo":4.76},{"n":2,"w":3.70,"v":6.00,"lo":4.60},{"n":2,"w":3.75,"v":5.97,"lo":4.57},
{"n":1,"w":0.316,"v":0.04},{"n":1,"w":0.353,"v":0.11},{"n":1,"w":0.396,"v":0.30},{"n":1,"w":0.476,"v":0.30},{"n":1,"w":0.500,"v":0.34},{"n":1,"w":0.537,"v":0.68},{"n":1,"w":0.598,"v":1.17},{"n":1,"w":0.684,"v":1.81},{"n":1,"w":0.763,"v":2.42},{"n":1,"w":0.825,"v":2.68},{"n":1,"w":0.867,"v":2.95},{"n":1,"w":0.904,"v":2.50},{"n":1,"w":0.935,"v":2.42},{"n":1,"w":0.959,"v":2.68},{"n":1,"w":0.990,"v":2.80},{"n":1,"w":1.021,"v":3.06},{"n":1,"w":1.051,"v":3.44},{"n":1,"w":1.100,"v":3.82},{"n":1,"w":1.131,"v":4.01},{"n":1,"w":1.180,"v":4.08},{"n":1,"w":1.192,"v":4.39},{"n":1,"w":1.223,"v":4.08},{"n":1,"w":1.253,"v":3.93},{"n":1,"w":1.272,"v":3.55},{"n":1,"w":1.296,"v":3.25},{"n":1,"w":1.314,"v":3.25},{"n":1,"w":1.345,"v":3.55},{"n":1,"w":1.363,"v":3.82},{"n":1,"w":1.394,"v":3.71},{"n":1,"w":1.406,"v":3.93},{"n":1,"w":1.437,"v":4.31},{"n":1,"w":1.467,"v":5.33},{"n":1,"w":1.498,"v":6.09},{"n":1,"w":1.510,"v":7.41},{"n":1,"w":1.559,"v":6.73},{"n":1,"w":1.578,"v":5.60},{"n":1,"w":1.608,"v":4.31},{"n":1,"w":1.651,"v":3.44},
{"n":1,"w":1.694,"v":3.18,"lo":1.75},{"n":1,"w":1.74,"v":3.35,"lo":1.95},{"n":1,"w":1.79,"v":3.52,"lo":2.10},{"n":1,"w":1.84,"v":3.62,"lo":2.20},{"n":1,"w":1.89,"v":3.70,"lo":2.30},{"n":1,"w":1.94,"v":3.52,"lo":2.12},{"n":1,"w":1.99,"v":3.33,"lo":1.93},{"n":1,"w":2.04,"v":3.18,"lo":1.78},{"n":1,"w":2.09,"v":3.06,"lo":1.66},{"n":1,"w":2.14,"v":3.08,"lo":1.68},{"n":1,"w":2.19,"v":3.06,"lo":1.66},{"n":1,"w":2.24,"v":2.90,"lo":1.50},{"n":1,"w":2.29,"v":2.72,"lo":1.32},{"n":1,"w":2.34,"v":2.60,"lo":1.20},{"n":1,"w":2.39,"v":2.44,"lo":1.04},{"n":1,"w":2.44,"v":2.34,"lo":0.94},{"n":1,"w":2.49,"v":2.25,"lo":0.85},{"n":1,"w":2.54,"v":2.14,"lo":0.78},{"n":1,"w":2.59,"v":1.95,"lo":0.70},{"n":1,"w":2.64,"v":1.73,"lo":0.60},{"n":1,"w":2.69,"v":1.53,"lo":0.55},{"n":1,"w":2.74,"v":1.47,"lo":0.50},{"n":1,"w":2.79,"v":1.44,"lo":0.50},{"n":1,"w":2.84,"v":1.44,"lo":0.50},{"n":1,"w":2.89,"v":1.44,"lo":0.50},{"n":1,"w":2.94,"v":1.44,"lo":0.50},{"n":1,"w":2.99,"v":1.44,"lo":0.50},{"n":1,"w":3.04,"v":1.44,"lo":0.50},{"n":1,"w":3.09,"v":1.45,"lo":0.50},{"n":1,"w":3.14,"v":1.46,"lo":0.50},{"n":1,"w":3.19,"v":1.46,"lo":0.50},{"n":1,"w":3.24,"v":1.44,"lo":0.50},{"n":1,"w":3.29,"v":1.40,"lo":0.45},{"n":1,"w":3.34,"v":1.36,"lo":0.40},{"n":1,"w":3.39,"v":1.27,"lo":0.30},{"n":1,"w":3.44,"v":1.06,"lo":0.15},{"n":1,"w":3.49,"v":0.90,"lo":0.05},{"n":1,"w":3.54,"v":0.83,"lo":0.0},{"n":1,"w":3.58,"v":0.79,"lo":0.0},{"n":1,"w":3.61,"v":0.98,"lo":0.0},{"n":1,"w":3.64,"v":0.87,"lo":0.0},{"n":1,"w":3.67,"v":0.72,"lo":0.0},{"n":1,"w":3.71,"v":0.68,"lo":0.0},{"n":1,"w":3.75,"v":0.60,"lo":0.0}
],
"al": [
{"t":"n=6","k":"n","v":27.6,"w":3.57},{"t":"n=5","k":"n","v":22.15,"w":3.54},{"t":"n=4","k":"n","v":16.6,"w":3.54},{"t":"n=3","k":"n","v":11.68,"w":3.51},{"t":"n=2","k":"n","v":7.22,"w":3.48},{"t":"n=1","k":"n","v":2.08,"w":3.46},
{"t":"INTERNAL","k":"m","v":1.97,"w":1.345},{"t":"MODES","k":"m","v":1.21,"w":1.247},{"t":"EXTERNAL","k":"m","v":1.29,"w":2.0},{"t":"MODES","k":"m","v":0.64,"w":2.215},
{"t":"(a)","k":"p","v":-3.67,"w":1.774}
]
},
"vconcat": [
{
  "width": 851, "height": 570,
  "layer": [
    {"data": {"name": "b"},
     "mark": {"type": "line", "color": "black", "strokeWidth": 3.2, "strokeJoin": "round", "strokeCap": "round"},
     "encoding": {
       "x": {"field": "d", "type": "quantitative", "scale": {"domain": [0, 0.2096], "reverse": true, "nice": false, "zero": false},
             "axis": {"orient": "bottom", "values": [0.05, 0.1, 0.15, 0.2], "format": ".2f", "labelAngle": 270, "labelAlign": "right", "labelBaseline": "middle", "labelPadding": 18, "title": "Generalized density function", "titleAngle": 180, "titleX": 545, "titleY": 84, "titleAlign": "center", "titleBaseline": "middle"}},
       "y": {"field": "e", "type": "quantitative", "scale": {"domain": [0, 678.6], "nice": false, "zero": false},
             "axis": {"orient": "right", "values": [100, 200, 300, 400, 500, 600], "labelAngle": 270, "labelAlign": "center", "labelBaseline": "top", "labelPadding": 21, "title": "Energy of excited state / cm⁻¹", "titleAngle": 270, "titleX": 63, "titleY": 273, "titleAlign": "center", "titleBaseline": "middle"}},
       "detail": {"field": "n"},
       "order": {"field": "e", "type": "quantitative"}
     }},
    {"data": {"name": "b"},
     "transform": [{"filter": "isValid(datum.lo)"}],
     "mark": {"type": "rule", "color": "black", "strokeWidth": 1.1},
     "encoding": {"x": {"field": "d", "type": "quantitative"}, "x2": {"field": "lo"}, "y": {"field": "e", "type": "quantitative"}}},
    {"data": {"name": "bl"},
     "transform": [{"filter": "datum.k == 'n'"}],
     "mark": {"type": "text", "angle": 270, "fontSize": 22, "fontStyle": "italic", "font": "Liberation Sans", "color": "black", "align": "center", "baseline": "middle"},
     "encoding": {"x": {"field": "d", "type": "quantitative"}, "y": {"field": "e", "type": "quantitative"}, "text": {"field": "t"}}},
    {"data": {"name": "bl"},
     "transform": [{"filter": "datum.k == 'm'"}],
     "mark": {"type": "text", "angle": 270, "fontSize": 18, "font": "Liberation Sans", "color": "black", "align": "center", "baseline": "middle"},
     "encoding": {"x": {"field": "d", "type": "quantitative"}, "y": {"field": "e", "type": "quantitative"}, "text": {"field": "t"}}},
    {"data": {"name": "bl"},
     "transform": [{"filter": "datum.k == 'p'"}],
     "mark": {"type": "text", "angle": 270, "fontSize": 21, "fontStyle": "italic", "font": "Liberation Sans", "color": "black", "align": "center", "baseline": "middle"},
     "encoding": {"x": {"field": "d", "type": "quantitative"}, "y": {"field": "e", "type": "quantitative"}, "text": {"field": "t"}}}
  ]
},
{
  "width": 851, "height": 571,
  "layer": [
    {"data": {"name": "a"},
     "mark": {"type": "line", "color": "black", "strokeWidth": 3.2, "strokeJoin": "round", "strokeCap": "round"},
     "encoding": {
       "x": {"field": "v", "type": "quantitative", "scale": {"domain": [0, 32.2], "reverse": true, "nice": false, "zero": false},
             "axis": {"orient": "bottom", "values": [10, 20, 30], "format": "d", "labelAngle": 270, "labelAlign": "right", "labelBaseline": "middle", "labelPadding": 21, "title": "Scattering intensity (arb.units)", "titleAngle": 180, "titleX": 566, "titleY": 56, "titleAlign": "center", "titleBaseline": "middle"}},
       "y": {"field": "w", "type": "quantitative", "scale": {"domain": [0.316, 3.813], "nice": false, "zero": false},
             "axis": {"orient": "right", "values": [0.5, 1, 1.5, 2, 2.5, 3, 3.5], "format": ".1f", "labelAngle": 270, "labelAlign": "center", "labelBaseline": "top", "labelPadding": 17, "title": "neutron wavelength/ Å", "titleAngle": 270, "titleX": 69, "titleY": 288, "titleAlign": "center", "titleBaseline": "middle"}},
       "detail": {"field": "n"},
       "order": {"field": "w", "type": "quantitative"}
     }},
    {"data": {"name": "a"},
     "transform": [{"filter": "isValid(datum.lo)"}],
     "mark": {"type": "rule", "color": "black", "strokeWidth": 1.1},
     "encoding": {"x": {"field": "v", "type": "quantitative"}, "x2": {"field": "lo"}, "y": {"field": "w", "type": "quantitative"}}},
    {"data": {"name": "al"},
     "transform": [{"filter": "datum.k == 'n'"}],
     "mark": {"type": "text", "angle": 270, "fontSize": 22, "fontStyle": "italic", "font": "Liberation Sans", "color": "black", "align": "center", "baseline": "middle"},
     "encoding": {"x": {"field": "v", "type": "quantitative"}, "y": {"field": "w", "type": "quantitative"}, "text": {"field": "t"}}},
    {"data": {"name": "al"},
     "transform": [{"filter": "datum.k == 'm'"}],
     "mark": {"type": "text", "angle": 270, "fontSize": 19, "font": "Liberation Sans", "color": "black", "align": "center", "baseline": "middle"},
     "encoding": {"x": {"field": "v", "type": "quantitative"}, "y": {"field": "w", "type": "quantitative"}, "text": {"field": "t"}}},
    {"data": {"name": "al"},
     "transform": [{"filter": "datum.k == 'p'"}],
     "mark": {"type": "text", "angle": 270, "fontSize": 21, "fontStyle": "italic", "font": "Liberation Sans", "color": "black", "align": "center", "baseline": "middle"},
     "encoding": {"x": {"field": "v", "type": "quantitative"}, "y": {"field": "w", "type": "quantitative"}, "text": {"field": "t"}}}
  ]
}
]
}
